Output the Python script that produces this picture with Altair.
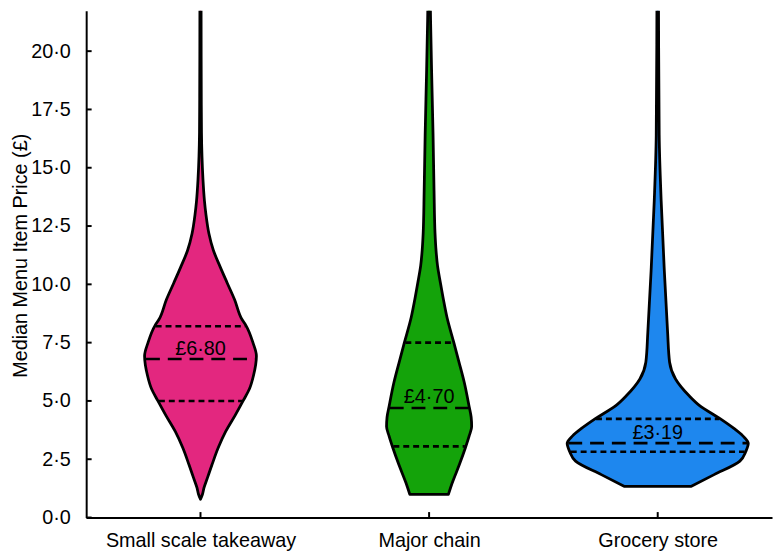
import json
import altair as alt
import numpy as np
import pandas as pd

# ---------------- data ----------------
categories = ["Small scale takeaway", "Major chain", "Grocery store"]
fill_colors = ["#E3277F", "#14A30A", "#1E87EE"]

# violin outlines: price (GBP) and half-width of the density (arbitrary units)
takeaway_price = [0.78, 1.0, 1.27, 1.7, 2.25, 3.0, 3.69, 4.38, 5.0, 5.52, 6.08, 6.93, 7.5,
                  8.23, 8.49, 9.34, 10.06, 10.74, 11.46, 12.18, 13.0, 13.58, 14.5, 15.5,
                  16.5, 18.0, 22.1]
takeaway_dens = [0, 2, 3.5, 7, 11.5, 18, 25.5, 35, 43, 49.5, 53.5, 56.5, 53,
                 46, 42, 34.5, 27, 20, 13, 8.5, 5.5, 4, 2.5, 1.5,
                 1, 0.8, 0.6]

chain_price = [0.99, 1.5, 2.26, 2.97, 3.5, 3.9, 4.3, 4.75, 5.8, 6.7, 7.5, 8.6, 9.34,
               10.05, 10.8, 11.46, 12.18, 14.0, 16.4, 19.2, 21.3, 22.1]
chain_dens = [19.5, 23.5, 30.5, 36.5, 40.5, 43, 42.5, 40.5, 35.5, 30, 25, 18, 14.5,
              11.5, 8.5, 7, 6, 5, 4, 2.5, 1.5, 1.2]

grocery_price = [1.34, 1.84, 2.42, 2.83, 3.18, 3.5, 3.82, 4.24, 4.81, 5.23, 5.94, 6.66,
                 7.94, 10.74, 13.58, 16.4, 22.1]
grocery_dens = [34, 57, 83, 89, 91.5, 86, 77, 63, 42, 31.5, 18, 12,
                10, 6.5, 3.5, 1.5, 0.8]

medians = [6.80, 4.70, 3.19]
q1 = [5.0, 3.05, 2.82]
q3 = [8.2, 7.5, 4.23]

y_ticks = [0, 2.5, 5, 7.5, 10, 12.5, 15, 17.5, 20]

# ---------------- build tables ----------------
DENS_TO_X = 1 / 231.0          # density unit -> x units (one category slot = 1)
centers = [0.5, 1.5, 2.5]
prices = [takeaway_price, chain_price, grocery_price]
dens = [takeaway_dens, chain_dens, grocery_dens]

rows = []
for cat, c, pr, de in zip(categories, centers, prices, dens):
    for p, d in zip(pr, de):
        rows.append({"cat": cat, "price": p,
                     "left": c - d * DENS_TO_X, "right": c + d * DENS_TO_X})
violin_df = pd.DataFrame(rows)

quart_rows, med_rows, label_rows = [], [], []
for cat, c, pr, de, m, a, b in zip(categories, centers, prices, dens, medians, q1, q3):
    for q in (a, b):
        w = (float(np.interp(q, pr, de)) - 1) * DENS_TO_X
        quart_rows.append({"cat": cat, "y": q, "x1": c - w, "x2": c + w})
    w = (float(np.interp(m, pr, de)) - 1) * DENS_TO_X
    med_rows.append({"cat": cat, "y": m, "x1": c - w, "x2": c + w})
    label_rows.append({"cat": cat, "x": c, "y": m,
                       "label": "£" + f"{m:.2f}".replace(".", "·")})
quart_df = pd.DataFrame(quart_rows)
med_df = pd.DataFrame(med_rows)
label_df = pd.DataFrame(label_rows)
ytick_df = pd.DataFrame({"v": y_ticks})
xtick_df = pd.DataFrame({"c": centers})

# ---------------- scales & axes ----------------
FONT = "Liberation Sans"
yscale = alt.Scale(domain=[0, 21.73], nice=False, zero=False)
xscale = alt.Scale(domain=[0, 3], nice=False, zero=False)

yaxis = alt.Axis(
    values=y_ticks,
    labelExpr="replace(format(datum.value, '.1f'), '.', '·')",
    ticks=False, tickSize=0, labelPadding=16, labelFontSize=20, labelColor="black",
    labelFont=FONT, domainColor="black", domainWidth=2, grid=False,
    title="Median Menu Item Price (£)", titleFontSize=20, titleFontWeight="normal",
    titleColor="black", titleFont=FONT, titleX=-60.5, titleY=247,
    titleBaseline="alphabetic", titleAngle=270, titleLimit=600,
)
xaxis = alt.Axis(
    values=centers,
    labelExpr=json.dumps(categories) + "[floor(datum.value)]",
    ticks=False, tickSize=0, labelPadding=13, labelFontSize=20, labelColor="black",
    labelFont=FONT, domainColor="black", domainWidth=2, grid=False,
    labelAngle=0, labelBaseline="top", labelLimit=400, title=None,
)


def Y(field):
    return alt.Y(field, scale=yscale, axis=yaxis)


def X(field):
    return alt.X(field, scale=xscale, axis=xaxis)


violins = alt.Chart(violin_df).mark_area(
    orient="horizontal", interpolate="monotone", stroke="black",
    strokeWidth=2.8, strokeJoin="round", clip=True, opacity=1,
).encode(
    y=Y("price:Q"),
    x=X("left:Q"),
    x2="right:Q",
    color=alt.Color("cat:N", scale=alt.Scale(domain=categories, range=fill_colors),
                    legend=None),
)

quart_lines = alt.Chart(quart_df).mark_rule(
    color="black", strokeWidth=2.6, strokeDash=[6, 4]
).encode(y=Y("y:Q"), x=X("x1:Q"), x2="x2:Q")

med_lines = alt.Chart(med_df).mark_rule(
    color="black", strokeWidth=2.6, strokeDash=[14, 8]
).encode(y=Y("y:Q"), x=X("x1:Q"), x2="x2:Q")

labels = alt.Chart(label_df).mark_text(
    fontSize=20, font=FONT, baseline="alphabetic", dy=-4.5, color="black"
).encode(y=Y("y:Q"), x=X("x:Q"), text="label:N")

yticks = alt.Chart(ytick_df).mark_rule(color="black", strokeWidth=2).encode(
    y=Y("v:Q"), x=alt.value(0), x2=alt.value(5.5),
)
xticks = alt.Chart(xtick_df).mark_rule(color="black", strokeWidth=2).encode(
    x=X("c:Q"), y=alt.value(512), y2=alt.value(506.5),
)

chart = alt.layer(violins, quart_lines, med_lines, labels, yticks, xticks).properties(
    width=693, height=512,
    autosize=alt.AutoSizeParams(type="none"),
    padding={"left": 79, "top": 0, "right": 2, "bottom": 33},
).configure(font=FONT).configure_view(stroke=None)

chart.save("out.html", embed_options={"renderer": "svg", "actions": False})
